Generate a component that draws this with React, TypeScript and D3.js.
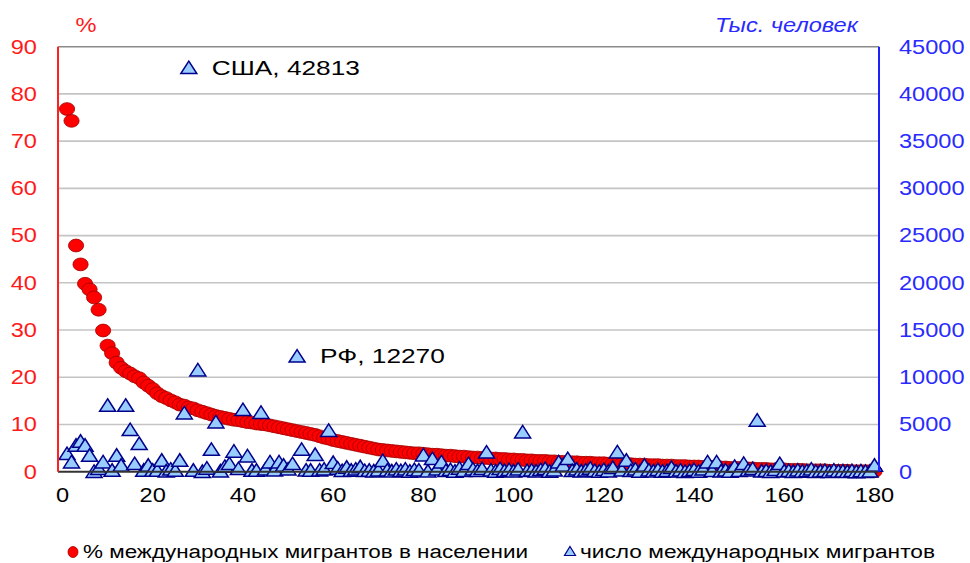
import React from 'react';
import * as d3 from 'd3';

// % of international migrants in population (sorted, index 1..180)
const pctValues: number[] = [
  76.8, 74.3, 47.9, 43.9, 39.8, 38.6, 36.9, 34.3, 29.9, 26.7,
  25.1, 23.1, 22.0, 21.3, 20.8, 20.2, 19.8, 18.9, 18.2, 17.5,
  16.6, 16.0, 15.6, 15.1, 14.7, 14.2, 14.0, 13.6, 13.4, 13.0,
  12.7, 12.4, 12.1, 11.8, 11.6, 11.4, 11.2, 11.0, 10.9, 10.7,
  10.5, 10.4, 10.2, 10.1, 10.0, 9.8, 9.6, 9.4, 9.2, 9.0,
  8.8, 8.6, 8.4, 8.2, 8.0, 7.8, 7.5, 7.2, 7.0, 6.7,
  6.5, 6.3, 6.1, 5.9, 5.7, 5.5, 5.3, 5.1, 4.9, 4.7,
  4.6, 4.5, 4.4, 4.3, 4.2, 4.1, 4.0, 3.9, 3.9, 3.8,
  3.7, 3.6, 3.6, 3.5, 3.4, 3.4, 3.3, 3.2, 3.2, 3.1,
  3.0, 3.0, 2.9, 2.9, 2.8, 2.8, 2.7, 2.7, 2.6, 2.6,
  2.5, 2.5, 2.4, 2.4, 2.3, 2.3, 2.3, 2.2, 2.2, 2.1,
  2.1, 2.0, 2.0, 2.0, 1.9, 1.9, 1.9, 1.8, 1.8, 1.8,
  1.7, 1.7, 1.7, 1.6, 1.6, 1.6, 1.5, 1.5, 1.5, 1.4,
  1.4, 1.4, 1.3, 1.3, 1.3, 1.2, 1.2, 1.2, 1.1, 1.1,
  1.1, 1.0, 1.0, 1.0, 0.9, 0.9, 0.9, 0.8, 0.8, 0.8,
  0.7, 0.7, 0.7, 0.6, 0.6, 0.6, 0.5, 0.5, 0.5, 0.5,
  0.4, 0.4, 0.4, 0.4, 0.3, 0.3, 0.3, 0.3, 0.3, 0.2,
  0.2, 0.2, 0.2, 0.2, 0.1, 0.1, 0.1, 0.1, 0.1, 0.1,
];

// number of international migrants, thousands (index 1..180)
const migrantValues: number[] = [
  1950, 1060, 2830, 3250, 2830, 1770, 60, 360, 1060, 7060,
  180, 1770, 710, 7060, 4490, 890, 3010, 180, 710, 180,
  180, 1240, 100, 300, 180, 1240, 6250, 42813, 180, 10800,
  50, 400, 2400, 5300, 100, 600, 890, 2200, 360, 6600,
  1700, 180, 180, 6300, 300, 1060, 200, 1060, 710, 300,
  890, 12270, 2400, 200, 180, 1850, 200, 300, 4400, 1000,
  400, 150, 500, 180, 300, 550, 150, 180, 100, 200,
  1200, 200, 100, 300, 150, 300, 80, 250, 200, 1800,
  100, 1420, 300, 1060, 150, 250, 80, 400, 150, 890,
  300, 150, 360, 2100, 200, 80, 360, 150, 250, 100,
  300, 4240, 150, 200, 100, 250, 360, 80, 200, 1060,
  710, 1420, 150, 300, 100, 200, 400, 150, 80, 250,
  100, 470, 2120, 200, 1240, 150, 300, 80, 710, 200,
  100, 250, 80, 150, 470, 100, 200, 60, 150, 250,
  80, 300, 1060, 150, 1060, 100, 200, 80, 600, 150,
  900, 200, 360, 5480, 100, 150, 60, 250, 890, 100,
  150, 50, 200, 80, 120, 300, 60, 100, 150, 40,
  200, 80, 100, 50, 150, 30, 120, 60, 90, 710,
];

const xTickValues: number[] = [0, 20, 40, 60, 80, 100, 120, 140, 160, 180];
const leftTickValues: number[] = [0, 10, 20, 30, 40, 50, 60, 70, 80, 90];
const rightTickValues: number[] = [0, 5000, 10000, 15000, 20000, 25000, 30000, 35000, 40000, 45000];

const annotationLabels: string[] = ['США, 42813', 'РФ, 12270'];
const annotationIndex: number[] = [28, 52];

const legendLabels: string[] = ['% международных мигрантов в населении', 'число международных мигрантов'];

const FONT = '"Liberation Sans", Arial, sans-serif';
const SX = 1.18;

function triPath(cx: number, cy: number, w: number, h: number): string {
  const p = d3.path();
  p.moveTo(cx, cy - h / 2);
  p.lineTo(cx + w / 2, cy + h / 2);
  p.lineTo(cx - w / 2, cy + h / 2);
  p.closePath();
  return p.toString();
}

function SText(props: {
  x: number; y: number; children: React.ReactNode; fill?: string; size?: number;
  anchor?: 'start' | 'middle' | 'end'; italic?: boolean; sx?: number;
}) {
  const { x, y, children, fill = '#000', size = 20, anchor = 'start', italic = false, sx = SX } = props;
  return (
    <text
      transform={`translate(${x},${y}) scale(${sx},1)`}
      fill={fill}
      fontSize={size}
      fontFamily={FONT}
      fontStyle={italic ? 'italic' : 'normal'}
      textAnchor={anchor}
      dominantBaseline="central"
    >
      {children}
    </text>
  );
}

export default function App() {
  const W = 970;
  const H = 563;
  const left = 58;
  const right = 879;
  const top = 46.7;
  const bottom = 471.7;

  const x = d3.scaleLinear().domain([-1, 181]).range([left, right]);
  const yL = d3.scaleLinear().domain([0, 90]).range([bottom, top]);
  const yR = d3.scaleLinear().domain([0, 45000]).range([bottom, top]);

  const pctPts = pctValues.map((v, i) => ({ i: i + 1, v }));
  const migPts = migrantValues.map((v, i) => ({ i: i + 1, v }));

  return (
    <svg
      width={W}
      height={H}
      viewBox={`0 0 ${W} ${H}`}
      style={{ position: 'absolute', left: 0, top: 0, background: '#fff' }}
    >
      <rect x={0} y={0} width={W} height={H} fill="#fff" />
      {/* gridlines */}
      {leftTickValues.slice(1, -1).map((t) => (
        <line key={'g' + t} x1={left} x2={right} y1={yL(t)} y2={yL(t)} stroke="#c4c4c4" strokeWidth={1.6} />
      ))}
      <line x1={left} x2={right} y1={top} y2={top} stroke="#8a8a8a" strokeWidth={1.6} />

      {/* red points */}
      <g>
        {pctPts.map((d) => (
          <ellipse
            key={'p' + d.i}
            cx={x(d.i)}
            cy={yL(d.v)}
            rx={7.6}
            ry={6.4}
            fill="#ff0000"
            stroke="#a00000"
            strokeWidth={0.8}
          />
        ))}
      </g>

      {/* blue triangles */}
      <g>
        {migPts.map((d) => (
          <path
            key={'m' + d.i}
            d={triPath(x(d.i), yR(d.v), 16, 12.5)}
            fill="#99ccff"
            stroke="#00008b"
            strokeWidth={1.5}
            strokeLinejoin="miter"
          />
        ))}
      </g>

      {/* axes */}
      <line x1={left} x2={right} y1={bottom} y2={bottom} stroke="#333" strokeWidth={2} />
      <line x1={left} x2={left} y1={top} y2={bottom} stroke="#ff2020" strokeWidth={2} />
      <line x1={right} x2={right} y1={top} y2={bottom} stroke="#2020ff" strokeWidth={2} />

      {/* left ticks */}
      {leftTickValues.map((t) => (
        <SText key={'l' + t} x={37} y={yL(t)} anchor="end" fill="#ff1a1a">
          {t}
        </SText>
      ))}
      {/* right ticks */}
      {rightTickValues.map((t) => (
        <SText key={'r' + t} x={899} y={yR(t)} anchor="start" fill="#2a2aff">
          {t}
        </SText>
      ))}
      {/* x ticks */}
      {xTickValues.map((t) => (
        <SText key={'x' + t} x={x(t)} y={495} anchor="middle" fill="#000">
          {t}
        </SText>
      ))}

      {/* axis titles */}
      <SText x={86} y={25} anchor="middle" fill="#ff1a1a">%</SText>
      <SText x={715} y={25} anchor="start" fill="#2a2aff" italic>Тыс. человек</SText>

      {/* annotations */}
      {annotationIndex.map((idx, k) => (
        <SText
          key={'a' + k}
          x={x(idx) + 23}
          y={yR(migrantValues[idx - 1])}
          anchor="start"
          fill="#000"
          size={21}
          sx={1.25}
        >
          {annotationLabels[k]}
        </SText>
      ))}

      {/* legend */}
      <ellipse cx={73} cy={552} rx={5} ry={5.5} fill="#ff0000" stroke="#a00000" strokeWidth={0.8} />
      <text
        x={83}
        y={552}
        fontSize={18}
        fontFamily={FONT}
        dominantBaseline="central"
        textLength={445}
        lengthAdjust="spacingAndGlyphs"
        fill="#000"
      >
        {legendLabels[0]}
      </text>
      <path d={triPath(570, 551, 11, 9)} fill="#99ccff" stroke="#00008b" strokeWidth={1.2} />
      <text
        x={580}
        y={552}
        fontSize={18}
        fontFamily={FONT}
        dominantBaseline="central"
        textLength={355}
        lengthAdjust="spacingAndGlyphs"
        fill="#000"
      >
        {legendLabels[1]}
      </text>
    </svg>
  );
}
